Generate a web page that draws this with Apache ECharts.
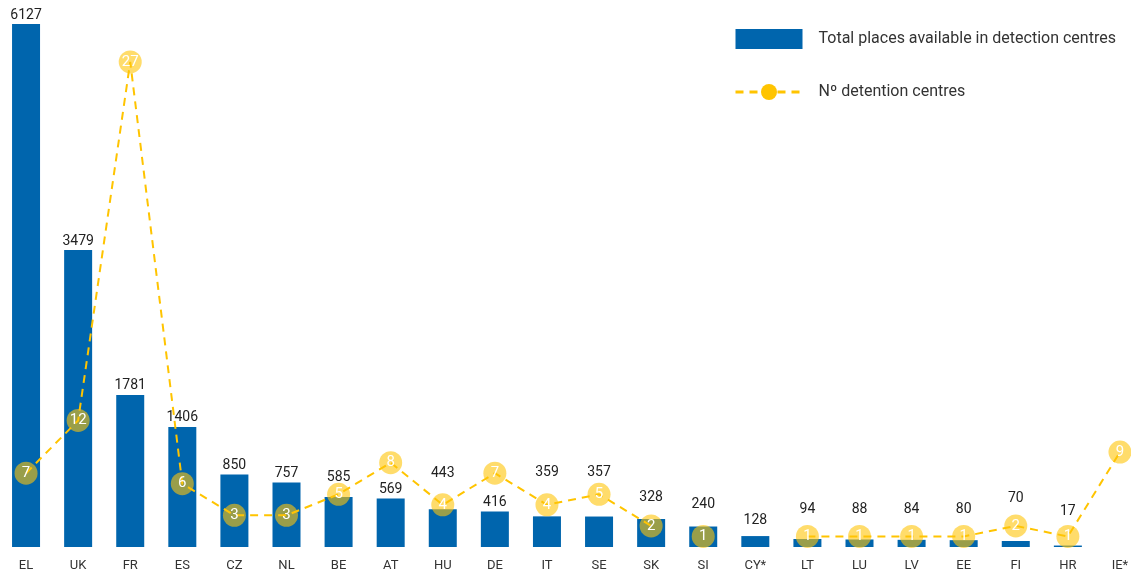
<!DOCTYPE html>
<html>
<head>
<meta charset="utf-8">
<script src="https://cdn.jsdelivr.net/npm/echarts@6/dist/echarts.min.js"></script>
<style>
html,body{margin:0;padding:0;background:#fff;}
#chart{width:1131px;height:575px;}
</style>
</head>
<body>
<div id="chart"></div>
<script>
const categories = ['EL','UK','FR','ES','CZ','NL','BE','AT','HU','DE','IT','SE','SK','SI','CY*','LT','LU','LV','EE','FI','HR','IE*'];
const totalPlaces = [6127,3479,1781,1406,850,757,585,569,443,416,359,357,328,240,128,94,88,84,80,70,17,null];
const detentionCentres = [7,12,27,6,3,3,5,8,4,7,4,5,2,1,null,1,1,1,1,2,1,9];
// heights at which the source chart draws the points (FR is drawn far above its labelled value)
const detentionPlotted = [7,12,46,6,3,3,5,8,4,7,4,5,2,1,null,1,1,1,1,2,1,9];
// points the source draws without connecting dashes
const unlinkedPoints = ['SI'];

// layout: extra upward shift (px) of some bar labels, as placed in the source to clear the circles
const barLabelLift = { BE: 11, HU: 27, IT: 35, SE: 35, SK: 13, SI: 13, 'CY*': 7, LT: 20, LU: 21, LV: 21, EE: 22, FI: 34, HR: 25 };

const BAR_NAME = 'Total places available in detection centres';
const LINE_NAME = 'N\u00ba detention centres';
const FONT = 'Roboto, "Open Sans", sans-serif';
const BLUE = '#0065ad';
const YELLOW = '#ffc400';

function pointData(keep) {
  return categories.map((c, i) => {
    if (detentionPlotted[i] == null || !keep(c)) return null;
    return { value: detentionPlotted[i], shown: detentionCentres[i] };
  });
}

const barData = categories.map((c, i) => {
  if (totalPlaces[i] == null) return null;
  const lift = barLabelLift[c] || 0;
  return { value: totalPlaces[i], label: { offset: [0, -lift] } };
});

const lineCommon = {
  type: 'line',
  name: LINE_NAME,
  yAxisIndex: 1,
  symbol: 'circle',
  symbolSize: 23,
  showAllSymbol: true,
  connectNulls: false,
  z: 5,
  lineStyle: { color: YELLOW, width: 2, type: [8, 6] },
  itemStyle: { color: 'rgba(255,196,8,0.6)' },
  label: {
    show: true, position: 'inside', color: '#fff', fontFamily: FONT, fontSize: 15,
    formatter: p => p.data && p.data.shown != null ? String(p.data.shown) : ''
  },
  emphasis: { disabled: true }
};

const chart = echarts.init(document.getElementById('chart'), null, { renderer: 'canvas' });
chart.setOption({
  animation: false,
  backgroundColor: '#fff',
  textStyle: { fontFamily: FONT },
  grid: { left: 0, width: 1146, top: 24, bottom: 28, containLabel: false, outerBoundsMode: 'none' },
  legend: {
    orient: 'vertical',
    left: 734, top: 29, padding: 0,
    itemWidth: 67, itemHeight: 20, itemGap: 35,
    textStyle: { fontFamily: FONT, fontSize: 16, color: '#333', padding: [0, 0, 0, 11] },
    selectedMode: false,
    data: [
      { name: BAR_NAME, icon: 'rect', itemStyle: { color: BLUE } },
      { name: LINE_NAME, itemStyle: { color: YELLOW, opacity: 1 }, lineStyle: { color: YELLOW, width: 3, type: [8, 6] } }
    ]
  },
  xAxis: {
    type: 'category',
    data: categories,
    axisLine: { show: false },
    axisTick: { show: false },
    axisLabel: { color: '#333', fontSize: 13, fontFamily: FONT, margin: 12, interval: 0 }
  },
  yAxis: [
    { type: 'value', min: 0, max: 6127, show: false, splitLine: { show: false } },
    { type: 'value', min: 0, max: 49.6, show: false, splitLine: { show: false } }
  ],
  series: [
    {
      type: 'bar',
      name: BAR_NAME,
      data: barData,
      barWidth: 28,
      itemStyle: { color: BLUE },
      label: { show: true, position: 'top', distance: 2, color: '#222', fontSize: 14, fontFamily: FONT },
      emphasis: { disabled: true },
      z: 2
    },
    Object.assign({}, lineCommon, { data: pointData(c => !unlinkedPoints.includes(c)) }),
    Object.assign({}, lineCommon, { data: pointData(c => unlinkedPoints.includes(c)) })
  ]
});
</script>
</body>
</html>
